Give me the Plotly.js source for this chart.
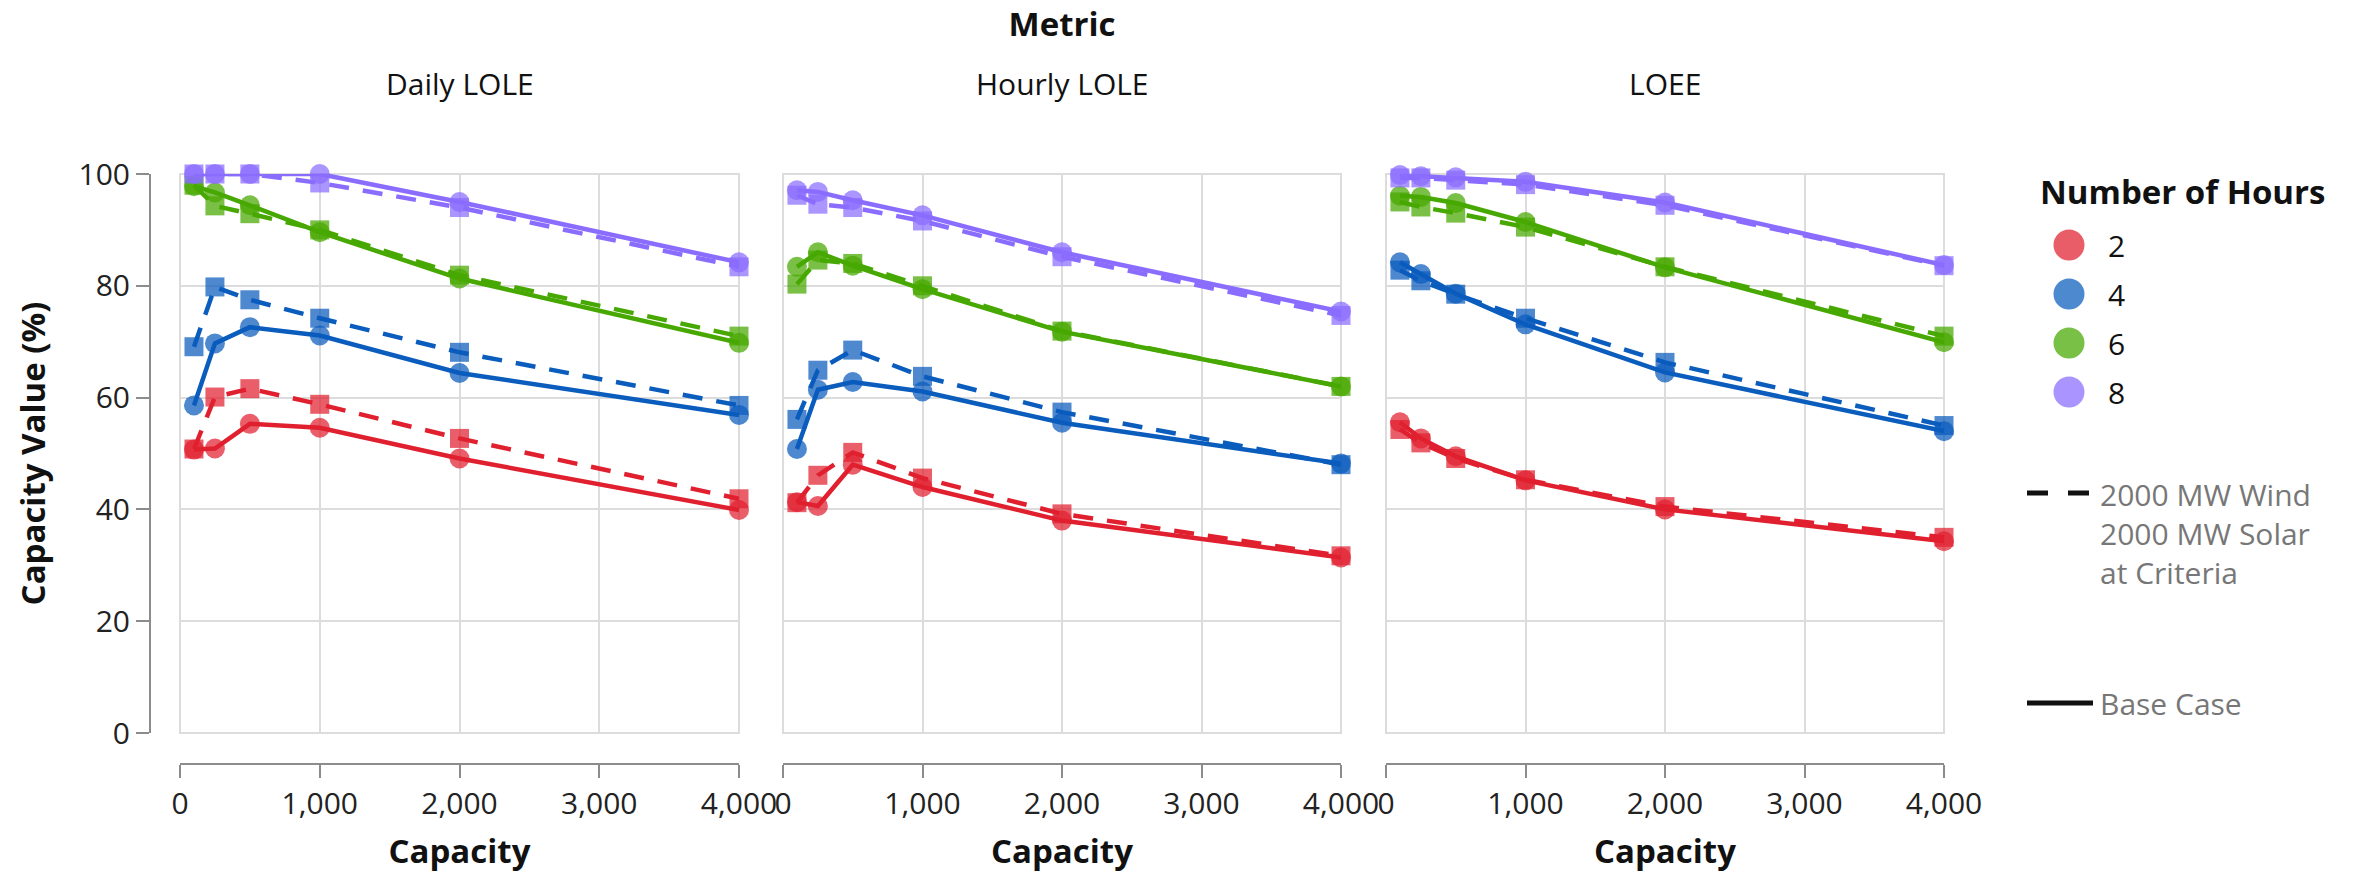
<!DOCTYPE html>
<html>
<head>
<meta charset="utf-8">
<script src="https://cdn.plot.ly/plotly-3.0.1.min.js"></script>
<style>html,body{margin:0;padding:0;background:#fff;}#chart{width:2356px;height:873px;}</style>
</head>
<body>
<div id="chart"></div>
<script>
// ---------- DATA ----------
const capacity = [100, 250, 500, 1000, 2000, 4000];
const metrics = ['Daily LOLE', 'Hourly LOLE', 'LOEE'];
const hours = ['2', '4', '6', '8'];
const xTickVals = [0, 1000, 2000, 3000, 4000];
const yTickVals = [0, 20, 40, 60, 80, 100];
const scenarioNames = ['2000 MW Wind<br>2000 MW Solar<br>at Criteria', 'Base Case'];

// Daily LOLE
const dailyBase2 = [50.7, 50.9, 55.3, 54.6, 49.1, 39.9];
const dailyBase4 = [58.6, 69.7, 72.6, 71.1, 64.4, 56.9];
const dailyBase6 = [97.8, 96.7, 94.4, 89.6, 81.3, 69.8];
const dailyBase8 = [100.0, 100.0, 100.0, 100.0, 95.0, 84.2];
const dailyWS2 = [50.8, 60.1, 61.6, 58.8, 52.7, 41.9];
const dailyWS4 = [69.1, 79.8, 77.5, 74.2, 68.1, 58.6];
const dailyWS6 = [98.0, 94.3, 92.9, 90.0, 81.9, 71.0];
const dailyWS8 = [100.0, 100.0, 100.0, 98.4, 94.0, 83.4];

// Hourly LOLE
const hourlyBase2 = [41.3, 40.6, 48.0, 44.0, 38.0, 31.4];
const hourlyBase4 = [50.8, 61.4, 62.8, 61.1, 55.5, 48.2];
const hourlyBase6 = [83.4, 86.0, 83.6, 79.4, 71.8, 62.0];
const hourlyBase8 = [97.1, 96.8, 95.3, 92.6, 86.0, 75.4];
const hourlyWS2 = [41.2, 46.1, 50.2, 45.6, 39.2, 31.7];
const hourlyWS4 = [56.1, 64.9, 68.5, 63.8, 57.4, 48.0];
const hourlyWS6 = [80.3, 84.6, 84.0, 80.0, 71.9, 62.0];
const hourlyWS8 = [96.2, 94.6, 94.0, 91.6, 85.2, 74.7];

// LOEE
const loeeBase2 = [55.6, 52.7, 49.5, 45.2, 40.0, 34.3];
const loeeBase4 = [84.2, 82.1, 78.6, 73.1, 64.5, 54.0];
const loeeBase6 = [96.1, 95.9, 94.8, 91.4, 83.3, 69.9];
const loeeBase8 = [99.8, 99.6, 99.4, 98.6, 94.9, 83.7];
const loeeWS2 = [54.3, 51.9, 49.1, 45.3, 40.5, 35.0];
const loeeWS4 = [82.8, 80.9, 78.5, 74.2, 66.3, 55.0];
const loeeWS6 = [95.0, 94.1, 93.0, 90.5, 83.4, 71.0];
const loeeWS8 = [99.3, 99.3, 98.9, 98.1, 94.4, 83.6];

// ---------- STYLE ----------
const lineColors = ['#e0202f', '#0a5cbd', '#46a800', '#8a6cff'];
const FONT = 'Open Sans, Noto Sans, sans-serif';

const baseTable = [
  [dailyBase2, dailyBase4, dailyBase6, dailyBase8],
  [hourlyBase2, hourlyBase4, hourlyBase6, hourlyBase8],
  [loeeBase2, loeeBase4, loeeBase6, loeeBase8]
];
const wsTable = [
  [dailyWS2, dailyWS4, dailyWS6, dailyWS8],
  [hourlyWS2, hourlyWS4, hourlyWS6, hourlyWS8],
  [loeeWS2, loeeWS4, loeeWS6, loeeWS8]
];

const traces = [];
metrics.forEach((m, mi) => {
  const xa = mi === 0 ? 'x' : 'x' + (mi + 1);
  const ya = mi === 0 ? 'y' : 'y' + (mi + 1);
  hours.forEach((h, hi) => {
    traces.push({
      type: 'scatter', mode: 'lines+markers', x: capacity, y: wsTable[mi][hi],
      xaxis: xa, yaxis: ya, name: h + ' h - 2000 MW Wind 2000 MW Solar at Criteria', showlegend: false,
      line: {color: lineColors[hi], width: 4.5, dash: '20px,14px'},
      marker: {symbol: 'square', size: 19, color: lineColors[hi], opacity: 0.72, line: {width: 0}},
      cliponaxis: false
    });
    traces.push({
      type: 'scatter', mode: 'lines+markers', x: capacity, y: baseTable[mi][hi],
      xaxis: xa, yaxis: ya, name: h + ' h - Base Case', showlegend: false,
      line: {color: lineColors[hi], width: 4.5},
      marker: {symbol: 'circle', size: 20, color: lineColors[hi], opacity: 0.72, line: {width: 0}},
      cliponaxis: false
    });
  });
});

// ---------- LAYOUT ----------
const W = 2356, H = 873;
const ML = 150, MR = 412, MT = 174, MB = 109;
const PW = W - ML - MR, PH = H - MT - MB;
const px = v => (v - ML) / PW;
const py = v => (H - MB - v) / PH;

const xDomains = [[px(180), px(739)], [px(783), px(1341)], [px(1386), px(1944)]];
const yDomain = [py(733), 1];

const gridColor = '#dcdcdc';
const axisColor = '#8c8c8c';

function xAxis(i) {
  return {
    domain: xDomains[i], range: [0, 4000], anchor: 'free', position: 0,
    tickvals: xTickVals, tickformat: ',', ticks: 'outside', ticklen: 13, tickwidth: 2, tickcolor: axisColor,
    showline: true, linecolor: axisColor, linewidth: 2,
    showgrid: true, gridcolor: gridColor, gridwidth: 2, zeroline: false,
    tickfont: {family: FONT, size: 30, color: '#222'},
    title: {text: '<b>Capacity</b>', font: {family: FONT, size: 33, color: '#111'}, standoff: 22},
    fixedrange: true
  };
}
function yAxis(i) {
  const base = {
    domain: yDomain, range: [0, 100], tickvals: yTickVals,
    showgrid: true, gridcolor: gridColor, gridwidth: 2, zeroline: false, fixedrange: true
  };
  if (i === 0) {
    return Object.assign(base, {
      anchor: 'free', position: 0, showline: true, linecolor: axisColor, linewidth: 2,
      ticks: 'outside', ticklen: 13, tickwidth: 2, tickcolor: axisColor,
      tickfont: {family: FONT, size: 30, color: '#222'},
      title: {text: '<b>Capacity Value (%)</b>', font: {family: FONT, size: 33, color: '#111'}, standoff: 22}
    });
  }
  return Object.assign(base, {anchor: 'x' + (i + 1), showline: false, showticklabels: false, ticks: ''});
}

const shapes = [];
const annotations = [];
// panel frames
['x', 'x2', 'x3'].forEach((xa, i) => {
  const ya = i === 0 ? 'y' : 'y' + (i + 1);
  shapes.push({type: 'rect', xref: xa + ' domain', yref: ya + ' domain', x0: 0, x1: 1, y0: 0, y1: 1,
    line: {color: gridColor, width: 2}, layer: 'below'});
});
// facet labels
metrics.forEach((m, i) => {
  annotations.push({text: m, xref: 'paper', yref: 'paper', x: (xDomains[i][0] + xDomains[i][1]) / 2,
    y: py(84), xanchor: 'center', yanchor: 'middle', showarrow: false,
    font: {family: FONT, size: 30, color: '#111'}});
});
// legend: colour
annotations.push({text: '<b>Number of Hours</b>', xref: 'paper', yref: 'paper', x: px(2038), y: py(191),
  xanchor: 'left', yanchor: 'middle', showarrow: false, font: {family: FONT, size: 33, color: '#111'}});
const legY = [245, 294, 343, 392];
const legCX = 2069;
hours.forEach((h, i) => {
  shapes.push({type: 'circle', xref: 'paper', yref: 'paper',
    x0: px(legCX - 14), x1: px(legCX + 14), y0: py(legY[i] + 14), y1: py(legY[i] - 14),
    fillcolor: lineColors[i], opacity: 0.72, line: {color: lineColors[i], width: 3}});
  annotations.push({text: h, xref: 'paper', yref: 'paper', x: px(2106), y: py(legY[i]),
    xanchor: 'left', yanchor: 'middle', showarrow: false, font: {family: FONT, size: 30, color: '#111'}});
});
// legend: line style
shapes.push({type: 'line', xref: 'paper', yref: 'paper', x0: px(2027), x1: px(2090), y0: py(493), y1: py(493),
  line: {color: '#111', width: 5, dash: '21px,20px'}});
annotations.push({text: scenarioNames[0], xref: 'paper', yref: 'paper', x: px(2098), y: py(472),
  xanchor: 'left', yanchor: 'top', align: 'left', showarrow: false, font: {family: FONT, size: 30, color: '#777'}});
shapes.push({type: 'line', xref: 'paper', yref: 'paper', x0: px(2027), x1: px(2093), y0: py(703), y1: py(703),
  line: {color: '#111', width: 5}});
annotations.push({text: scenarioNames[1], xref: 'paper', yref: 'paper', x: px(2098), y: py(703),
  xanchor: 'left', yanchor: 'middle', showarrow: false, font: {family: FONT, size: 30, color: '#777'}});

const layout = {
  width: W, height: H,
  margin: {l: ML, r: MR, t: MT, b: MB, autoexpand: false},
  paper_bgcolor: '#fff', plot_bgcolor: '#fff',
  font: {family: FONT, size: 30, color: '#222'},
  title: {text: '<b>Metric</b>', xref: 'paper', x: px(1062), xanchor: 'center',
    yref: 'container', y: 1 - 24 / H, yanchor: 'middle', font: {family: FONT, size: 33, color: '#111'}},
  showlegend: false,
  xaxis: xAxis(0), xaxis2: xAxis(1), xaxis3: xAxis(2),
  yaxis: yAxis(0), yaxis2: yAxis(1), yaxis3: yAxis(2),
  shapes: shapes, annotations: annotations
};

Plotly.newPlot('chart', traces, layout, {staticPlot: true, displayModeBar: false});
</script>
</body>
</html>
